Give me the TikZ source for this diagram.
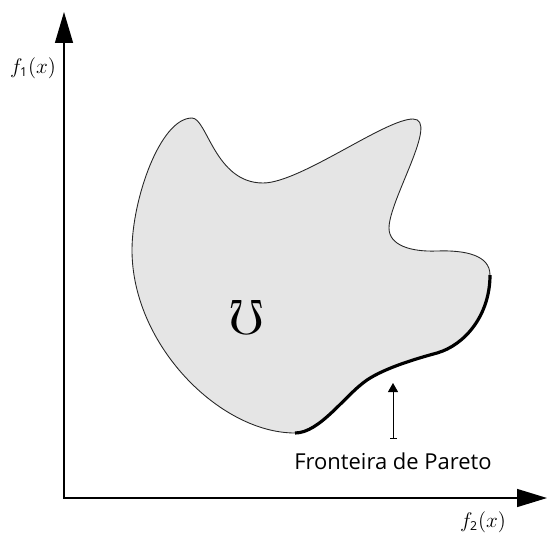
\documentclass[tikz,border=0pt]{standalone}
\usepackage{fontspec}
\usepackage{graphicx}
\usetikzlibrary{arrows.meta}
\newfontfamily\labelfont{Open Sans}
\newcommand{\fx}[1]{$f_{\mbox{\labelfont\scriptsize #1}}(x)$}

\begin{document}
\begin{tikzpicture}[x=0.2mm,y=-0.2mm,
  axis/.style={line width=0.8pt,{Triangle[length=6.2mm,width=3.6mm]}-{Triangle[length=6mm,width=3.6mm]}},
  region/.style={fill=gray!20,draw=black!85,line width=0.5pt},
  front/.style={line width=1.8pt},
  pointer/.style={line width=0.5pt,{Bar[width=1.4mm]}-{Triangle[length=1.8mm,width=2mm]}}]
 \useasboundingbox (0,0) rectangle (548,532);
 % axes
 \coordinate (o) at (64,498);
 \coordinate (ytip) at (64,12);
 \coordinate (xtip) at (547,498);
 \draw[axis] (ytip)--(o)--(xtip);
 \node[font=\fontsize{13}{15}\selectfont] (f1) at (33,68) {\fx{1}};
 \node[font=\fontsize{13}{15}\selectfont] (f2) at (483,522) {\fx{2}};
 % objective space
 \draw[region] (295,433) .. controls (220,433) and (132,345) .. (132,250)
   .. controls (132,200) and (160,118) .. (192,118)
   .. controls (207,118) and (215,183) .. (263,183)
   .. controls (300,183) and (385,119) .. (413,119)
   .. controls (440,119) and (389,200) .. (389,228)
   .. controls (389,245) and (410,252) .. (437,251)
   .. controls (465,250) and (490,255) .. (490,275)
   .. controls (490,315) and (465,345) .. (437,353)
   .. controls (415,359) and (385,368) .. (367,380)
   .. controls (345,395) and (320,433) .. cycle;
 \node (omega) at (247,317) {\rotatebox{180}{\scalebox{2.8}{$\Omega$}}};
 % pareto front
 \draw[front] (490,275) .. controls (490,315) and (465,345) .. (437,353)
   .. controls (415,359) and (385,368) .. (367,380)
   .. controls (345,395) and (320,433) .. (295,433);
 \node[font=\labelfont\fontsize{12.5}{14}\selectfont,anchor=base,inner sep=0pt,outer ysep=7.5pt] (pareto) at (393,469) {Fronteira de Pareto};
 \coordinate (ptip) at (393,383);
 \draw[pointer] (pareto.north)--(ptip);
\end{tikzpicture}
\end{document}
